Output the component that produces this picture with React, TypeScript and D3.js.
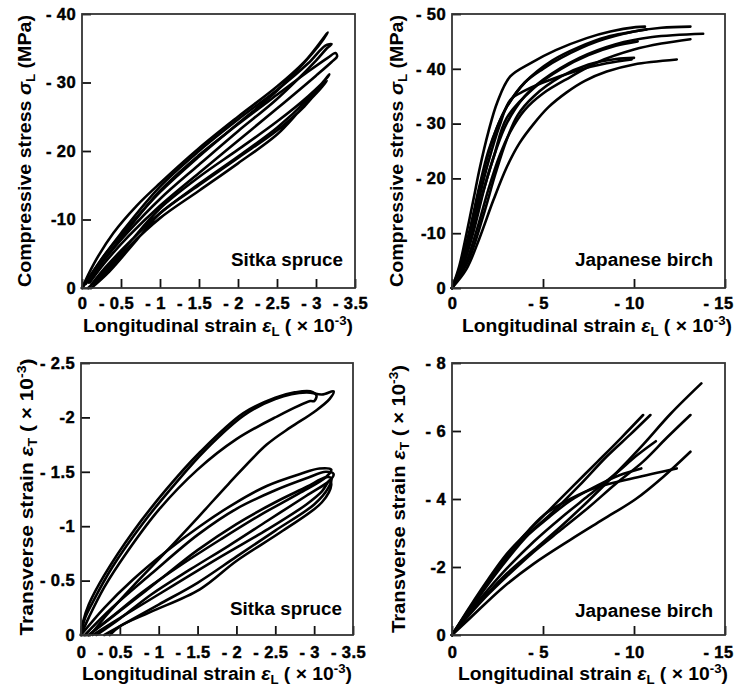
import { useEffect, useRef } from "react";
import * as d3 from "d3";

// all strains are magnitudes in 10^-3, stress magnitudes in MPa (labels carry the minus sign)
type Pt = [number, number];

const spruceStrainTicks = [0, 0.5, 1, 1.5, 2, 2.5, 3, 3.5];
const spruceStrainLabels = ["0", "- 0.5", "- 1", "- 1.5", "- 2", "- 2.5", "- 3", "- 3.5"];
const birchStrainTicks = [0, 5, 10, 15];
const birchStrainLabels = ["0", "- 5", "- 10", "- 15"];

const spruceStressTicks = [0, 10, 20, 30, 40];
const spruceStressLabels = ["0", "-10", "- 20", "- 30", "- 40"];
const birchStressTicks = [0, 10, 20, 30, 40, 50];
const birchStressLabels = ["0", "-10", "- 20", "- 30", "- 40", "- 50"];
const spruceTransTicks = [0, 0.5, 1, 1.5, 2, 2.5];
const spruceTransLabels = ["0", "- 0.5", "-1", "- 1.5", "-2", "- 2.5"];
const birchTransTicks = [0, 2, 4, 6, 8];
const birchTransLabels = ["0", "-2", "- 4", "- 6", "- 8"];

// loading + unloading loops, Sitka spruce, stress vs longitudinal strain
const spruceStressLoops: Pt[][] = [
  [[0, 0], [0.15, 3.5], [0.4, 8.0], [0.7, 12.0], [1.0, 15.3], [1.5, 20.4], [2.0, 25.0], [2.5, 29.4], [2.85, 33.0], [3.05, 35.8], [3.15, 37.3],
   [3.1, 36.4], [2.95, 34.2], [2.5, 28.8], [2.0, 24.0], [1.5, 19.2], [1.0, 14.0], [0.6, 9.0], [0.3, 5.0], [0.05, 0.6]],
  [[0, 0], [0.2, 3.4], [0.5, 8.0], [1.0, 14.8], [1.5, 20.0], [2.0, 24.6], [2.5, 28.9], [2.9, 32.8], [3.12, 35.4], [3.2, 35.6],
   [3.14, 35.0], [3.0, 33.2], [2.5, 27.6], [2.0, 22.9], [1.5, 18.0], [1.0, 13.0], [0.6, 8.3], [0.3, 4.3], [0.08, 0.8]],
  [[0, 0], [0.2, 3.0], [0.5, 7.3], [1.0, 14.2], [1.5, 19.4], [2.0, 23.9], [2.5, 28.2], [2.9, 31.6], [3.15, 33.6], [3.25, 34.3],
   [3.27, 33.8], [3.2, 33.0], [3.0, 31.0], [2.5, 26.2], [2.0, 21.5], [1.5, 16.8], [1.0, 12.0], [0.6, 7.6], [0.3, 3.8], [0.1, 0.8]],
  [[0.08, 0], [0.3, 2.5], [0.6, 6.5], [1.0, 11.6], [1.5, 16.2], [2.0, 20.2], [2.5, 24.3], [2.9, 28.0], [3.15, 30.8], [3.17, 31.2],
   [3.1, 30.2], [2.9, 27.6], [2.5, 23.4], [2.0, 19.2], [1.5, 15.2], [1.0, 10.9], [0.6, 6.6], [0.3, 3.0], [0.12, 0.5]],
  [[0.12, 0], [0.35, 2.4], [0.7, 7.0], [1.0, 10.9], [1.5, 15.0], [2.0, 19.0], [2.5, 23.0], [2.85, 26.5], [3.1, 29.8], [3.14, 30.2],
   [3.05, 29.0], [2.8, 26.0], [2.5, 22.4], [2.0, 18.2], [1.5, 14.2], [1.0, 10.2], [0.6, 6.0], [0.35, 2.8], [0.15, 0.4]],
];

// Japanese birch, stress vs longitudinal strain
const birchStressCurves: Pt[][] = [
  [[0, 0], [0.4, 4], [0.8, 10], [1.2, 16.5], [1.5, 21.5], [2, 28.5], [2.5, 34], [3.2, 38.6], [4.3, 41], [5.7, 43.4], [7.4, 45.6], [8.7, 46.8], [10.1, 47.6], [10.6, 47.7]],
  [[0, 0], [0.5, 4], [1, 10.5], [1.5, 18], [2, 24.5], [2.5, 29.5], [3, 33], [4, 37.5], [5, 40], [6, 42], [8, 45], [10, 46.8], [11.5, 47.5], [13.1, 47.7]],
  [[0, 0], [0.6, 4], [1.2, 10.5], [1.8, 18.5], [2.4, 25], [3, 30], [4, 35], [5, 38], [7, 42], [9, 44.5], [11, 45.8], [13.8, 46.4]],
  [[0, 0], [0.7, 4], [1.4, 11], [2, 18], [2.6, 24], [3.2, 28.5], [4, 32.5], [5, 35.5], [6.5, 38.5], [8, 41.2], [10, 43.5], [11.5, 44.6], [13.1, 45.4]],
  [[0, 0], [0.8, 3.5], [1.5, 9], [2.27, 16], [3, 22], [3.7, 26.4], [4.5, 30], [5.3, 33], [6.3, 35.7], [7.3, 37.8], [8.5, 39.5], [10, 40.8], [12.35, 41.7]],
  [[0, 0], [0.5, 4], [1, 9.5], [1.5, 16.5], [2, 23], [2.6, 29.5], [3.2, 34.3], [4, 36], [5, 37.5], [7, 39.8], [8.5, 41], [9.87, 41.7]],
  [[0, 0], [0.5, 4.5], [1, 11], [1.5, 18.5], [2, 25], [2.5, 29.5], [3, 33], [4, 37.5], [5.5, 41.5], [7, 44], [8.5, 45.8], [10.7, 47.2]],
  [[0, 0], [0.6, 4.5], [1.1, 10], [1.7, 17.5], [2.3, 24], [3, 31], [4.5, 36.5], [6, 40], [7.5, 42.5], [9, 44.2], [10.2, 45]],
  [[0, 0], [0.9, 5], [1.7, 13], [2.4, 21], [3, 27], [3.6, 31.5], [4.5, 35], [6, 38.6], [7.5, 40.8], [9, 41.8], [10, 42]],
];

// Sitka spruce, transverse vs longitudinal strain (loops)
const spruceTransLoops: Pt[][] = [
  [[0, 0], [0.03, 0.13], [0.1, 0.28], [0.3, 0.55], [0.67, 0.95], [1.1, 1.34], [1.53, 1.68], [2.09, 2.04], [2.5, 2.18], [2.75, 2.23], [2.95, 2.24], [3.03, 2.2],
   [3.0, 2.15], [2.95, 2.15], [2.5, 2.0], [2.0, 1.8], [1.5, 1.52], [1.0, 1.15], [0.6, 0.77], [0.3, 0.44], [0.1, 0.16], [0, 0]],
  [[0, 0], [0.05, 0.15], [0.15, 0.3], [0.4, 0.62], [0.8, 1.03], [1.2, 1.38], [1.6, 1.7], [2.1, 2.02], [2.5, 2.17], [2.9, 2.23], [3.1, 2.21], [3.25, 2.24],
   [3.2, 2.17], [3.0, 2.05], [2.7, 1.91], [2.39, 1.75], [1.9, 1.39], [1.53, 1.1], [1.1, 0.77], [0.67, 0.45], [0.35, 0.2], [0.12, 0]],
  [[0, 0], [0.3, 0.25], [0.67, 0.51], [1.1, 0.77], [1.53, 1.0], [2.0, 1.22], [2.39, 1.37], [2.82, 1.48], [3.07, 1.53], [3.22, 1.52],
   [3.15, 1.45], [2.8, 1.3], [2.3, 1.1], [1.8, 0.88], [1.3, 0.65], [0.8, 0.4], [0.4, 0.17], [0.1, 0]],
  [[0.05, 0], [0.4, 0.25], [0.9, 0.56], [1.5, 0.92], [2.0, 1.16], [2.5, 1.33], [2.9, 1.44], [3.15, 1.5], [3.25, 1.48],
   [3.2, 1.42], [2.9, 1.28], [2.4, 1.05], [1.9, 0.82], [1.4, 0.6], [0.9, 0.37], [0.5, 0.15], [0.2, 0]],
  [[0.1, 0], [0.5, 0.22], [1.0, 0.5], [1.5, 0.78], [2.0, 1.02], [2.5, 1.22], [2.9, 1.36], [3.15, 1.45], [3.22, 1.44],
   [3.18, 1.35], [3.0, 1.2], [2.5, 0.96], [2.0, 0.72], [1.5, 0.48], [1.0, 0.28], [0.6, 0.12], [0.3, 0]],
  [[0.15, 0], [0.6, 0.2], [1.2, 0.46], [1.8, 0.72], [2.4, 0.97], [2.9, 1.2], [3.1, 1.32], [3.2, 1.42],
   [3.22, 1.38], [3.1, 1.22], [2.6, 0.96], [2.0, 0.68], [1.53, 0.42], [0.89, 0.21], [0.5, 0.08], [0.37, 0]],
];

// Japanese birch, transverse vs longitudinal strain
const birchTransCurves: Pt[][] = [
  [[0, 0], [1, 0.85], [2, 1.65], [3, 2.38], [4, 2.95], [5.3, 3.65], [6.5, 4.3], [8, 5.1], [9.3, 5.8], [10.5, 6.47]],
  [[0, 0], [1, 0.8], [2, 1.58], [3, 2.3], [4, 2.88], [5.5, 3.6], [7, 4.4], [8.5, 5.25], [9.8, 5.9], [10.9, 6.47]],
  [[0, 0], [1, 0.65], [2, 1.25], [3, 1.8], [4.5, 2.5], [6, 3.2], [7.5, 3.95], [9, 4.75], [10.5, 5.6], [12, 6.5], [13.7, 7.4]],
  [[0, 0], [1, 0.62], [2, 1.2], [3, 1.72], [4.5, 2.45], [6, 3.1], [7.5, 3.75], [9, 4.45], [10.5, 5.1], [11.8, 5.8], [13.1, 6.47]],
  [[0, 0], [1, 0.5], [2.8, 1.4], [4.5, 2.1], [6.5, 2.8], [8.3, 3.4], [10.1, 4.0], [11.6, 4.65], [13.1, 5.39]],
  [[0, 0], [1, 0.8], [2, 1.55], [3, 2.25], [4, 2.95], [5.1, 3.55], [6.5, 4.0], [8, 4.35], [10, 4.62], [12.35, 4.9]],
  [[0, 0], [1, 0.75], [2, 1.5], [3, 2.2], [4.2, 2.95], [5.3, 3.45], [6.5, 3.95], [8, 4.4], [9.2, 4.7], [10.4, 4.9]],
  [[0, 0], [1, 0.7], [2, 1.35], [3, 1.95], [4.5, 2.75], [6, 3.45], [7.5, 4.1], [9, 4.75], [10.2, 5.3], [11.2, 5.7]],
];

const FONT = "'Liberation Sans', Arial, sans-serif";
const W = 734;

function styleTickText(sel: any) {
  sel
    .style("font-family", FONT)
    .style("font-weight", "bold")
    .style("font-size", "16.5px")
    .style("letter-spacing", "0.4px")
    .style("fill", "#000")
    .style("stroke", "#000")
    .style("stroke-width", "0.45px");
}

function drawPanel(svg: any, p: any) {
  const x = d3.scaleLinear().domain([0, p.xTicks[p.xTicks.length - 1]]).range([p.left, p.right]);
  const y = d3.scaleLinear().domain([0, p.yTicks[p.yTicks.length - 1]]).range([p.bottom, p.top]);
  const g = svg.append("g");

  const line = d3
    .line<Pt>()
    .x((d) => x(d[0]))
    .y((d) => y(d[1]))
    .curve(d3.curveCatmullRom.alpha(0.5));

  g.selectAll(".curve")
    .data(p.curves)
    .join("path")
    .attr("d", (d: Pt[]) => line(d))
    .attr("fill", "none")
    .attr("stroke", "#000")
    .attr("stroke-width", 2.6)
    .attr("stroke-linejoin", "round")
    .attr("stroke-linecap", "round");

  // inward ticks
  const xAxis = d3.axisBottom(x).tickValues(p.xTicks).tickSizeInner(-9).tickSizeOuter(0)
    .tickFormat((d, i) => p.xLabels[i]);
  const gx = g.append("g").attr("transform", `translate(0,${p.bottom})`).call(xAxis);
  gx.select(".domain").remove();
  gx.selectAll("line").attr("stroke", "#111").attr("stroke-width", 1.8);
  const xText = gx.selectAll("text")
    .attr("y", p.xLabelDy)
    .attr("dy", 0)
    .attr("dx", (d: any, i: number) => (p.xLabels[i].startsWith("- ") ? -5 : 0));
  styleTickText(xText);
  // keep a label that would run past the right edge inside the picture
  xText.each(function (this: SVGTextElement, d: any) {
    const tx = x(d);
    if (tx + 14 > W) {
      d3.select(this).attr("text-anchor", "end").attr("dx", W - 1 - tx);
    }
  });

  const yAxis = d3.axisLeft(y).tickValues(p.yTicks).tickSizeInner(-9).tickSizeOuter(0).tickPadding(6)
    .tickFormat((d, i) => p.yLabels[i]);
  const gy = g.append("g").attr("transform", `translate(${p.left},0)`).call(yAxis);
  gy.select(".domain").remove();
  gy.selectAll("line").attr("stroke", "#111").attr("stroke-width", 1.8);
  styleTickText(gy.selectAll("text"));

  g.append("rect")
    .attr("x", p.left)
    .attr("y", p.top)
    .attr("width", p.right - p.left)
    .attr("height", p.bottom - p.top)
    .attr("fill", "none")
    .attr("stroke", "#333")
    .attr("stroke-width", 1.8);

  // species name
  g.append("text")
    .attr("x", p.nameX)
    .attr("y", p.nameY)
    .attr("text-anchor", "end")
    .attr("font-family", FONT)
    .attr("font-weight", "bold")
    .attr("font-size", 17.5)
    .attr("textLength", p.nameW)
    .attr("lengthAdjust", "spacingAndGlyphs")
    .text(p.name);

  // x title
  const xt = g.append("text")
    .attr("x", p.xTitleX)
    .attr("y", p.xTitleY)
    .attr("text-anchor", "middle")
    .attr("font-family", FONT)
    .attr("font-weight", "bold")
    .attr("font-size", 17.5)
    .attr("textLength", 270)
    .attr("lengthAdjust", "spacingAndGlyphs");
  xt.append("tspan").text("Longitudinal strain ");
  xt.append("tspan").attr("font-style", "italic").text("ε");
  xt.append("tspan").attr("font-size", 12).attr("dy", 4).text("L");
  xt.append("tspan").attr("dy", -4).text(" ( × 10");
  xt.append("tspan").attr("font-size", 12).attr("dy", -7).text("-3");
  xt.append("tspan").attr("dy", 7).text(")");

  // y title
  const yt = g.append("text")
    .attr("transform", `translate(${p.yTitleX},${p.yTitleY}) rotate(-90)`)
    .attr("text-anchor", "middle")
    .attr("font-family", FONT)
    .attr("font-weight", "bold")
    .attr("font-size", 18.5)
    .attr("textLength", p.yTitleW)
    .attr("lengthAdjust", "spacingAndGlyphs");
  if (p.stress) {
    yt.append("tspan").text("Compressive stress ");
    yt.append("tspan").attr("font-style", "italic").text("σ");
    yt.append("tspan").attr("font-size", 12.5).attr("dy", 4).text("L");
    yt.append("tspan").attr("dy", -4).text(" (MPa)");
  } else {
    yt.append("tspan").text("Transverse strain ");
    yt.append("tspan").attr("font-style", "italic").text("ε");
    yt.append("tspan").attr("font-size", 12.5).attr("dy", 4).text("T");
    yt.append("tspan").attr("dy", -4).text(" ( × 10");
    yt.append("tspan").attr("font-size", 12.5).attr("dy", -7).text("-3");
    yt.append("tspan").attr("dy", 7).text(")");
  }
}

export default function App() {
  const svgRef = useRef<SVGSVGElement>(null);

  useEffect(() => {
    const svg = d3.select(svgRef.current);
    svg.selectAll("*").remove();

    drawPanel(svg, {
      left: 82, top: 14, right: 355, bottom: 288,
      xTicks: spruceStrainTicks, xLabels: spruceStrainLabels,
      yTicks: spruceStressTicks, yLabels: spruceStressLabels,
      curves: spruceStressLoops, stress: true,
      name: "Sitka spruce", nameX: 343, nameY: 266, nameW: 112,
      xLabelDy: 21, xTitleX: 218, xTitleY: 332,
      yTitleX: 31, yTitleY: 151, yTitleW: 272,
    });
    drawPanel(svg, {
      left: 452, top: 14, right: 725, bottom: 288,
      xTicks: birchStrainTicks, xLabels: birchStrainLabels,
      yTicks: birchStressTicks, yLabels: birchStressLabels,
      curves: birchStressCurves, stress: true,
      name: "Japanese birch", nameX: 713, nameY: 266, nameW: 138,
      xLabelDy: 21, xTitleX: 597, xTitleY: 332,
      yTitleX: 403, yTitleY: 151, yTitleW: 272,
    });
    drawPanel(svg, {
      left: 81, top: 363, right: 353, bottom: 635,
      xTicks: spruceStrainTicks, xLabels: spruceStrainLabels,
      yTicks: spruceTransTicks, yLabels: spruceTransLabels,
      curves: spruceTransLoops, stress: false,
      name: "Sitka spruce", nameX: 342, nameY: 615, nameW: 112,
      xLabelDy: 23, xTitleX: 217, xTitleY: 680,
      yTitleX: 33, yTitleY: 497, yTitleW: 277,
    });
    drawPanel(svg, {
      left: 452, top: 363, right: 725, bottom: 635,
      xTicks: birchStrainTicks, xLabels: birchStrainLabels,
      yTicks: birchTransTicks, yLabels: birchTransLabels,
      curves: birchTransCurves, stress: false,
      name: "Japanese birch", nameX: 713, nameY: 617, nameW: 138,
      xLabelDy: 23, xTitleX: 593, xTitleY: 680,
      yTitleX: 405, yTitleY: 499, yTitleW: 268,
    });
  }, []);

  return (
    <svg
      ref={svgRef}
      width={W}
      height={687}
      style={{ position: "absolute", left: 0, top: 0, background: "#fff" }}
    ></svg>
  );
}
